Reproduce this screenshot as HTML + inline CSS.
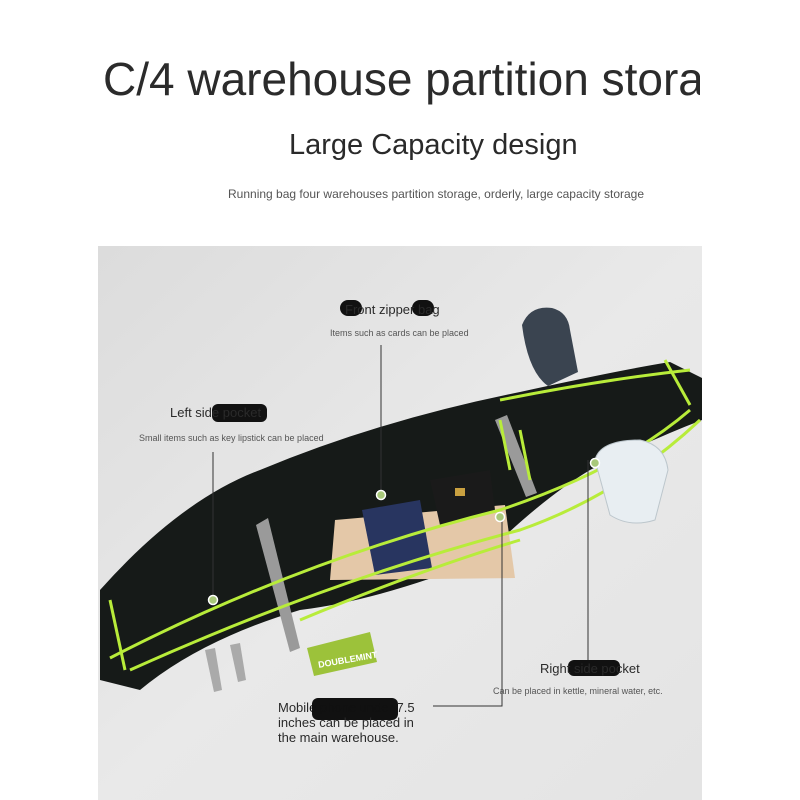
<!DOCTYPE html>
<html><head><meta charset="utf-8"><style>
html,body{margin:0;padding:0;background:#fff;width:800px;height:800px;overflow:hidden;font-family:"Liberation Sans",sans-serif}
.t{position:absolute;white-space:nowrap;color:#2a2a2a}
</style></head><body>
<div class="t" style="left:103px;top:52px;font-size:46px;width:597px;overflow:hidden;color:#2b2b2b">C/4 warehouse partition storage</div>
<div class="t" style="left:289px;top:129px;font-size:29px">Large Capacity design</div>
<div class="t" style="left:228px;top:187px;font-size:12px;color:#555">Running bag four warehouses partition storage, orderly, large capacity storage</div>
<svg style="position:absolute;left:0;top:0" width="800" height="800">
<defs><linearGradient id="bg" x1="0" y1="0" x2="1" y2="1"><stop offset="0" stop-color="#dcdcdc"/><stop offset="0.5" stop-color="#e9e9e9"/><stop offset="1" stop-color="#e4e4e4"/></linearGradient></defs>
<rect x="98" y="246" width="604" height="554" fill="url(#bg)"/>
<!-- mesh bottle -->
<path d="M522 325 Q530 305 552 308 Q568 312 570 330 L578 372 L548 386 Q528 372 522 325Z" fill="#3a4450"/>
<!-- bag -->
<path d="M100 590 Q180 500 260 470 Q380 420 520 392 Q620 370 670 362 L702 378 L702 420 Q650 440 590 470 Q540 500 480 560 Q380 600 300 610 Q200 640 140 690 L100 680Z" fill="#161a18"/>
<!-- phone/cards -->
<path d="M335 520 L505 505 L515 578 L330 580Z" fill="#e4c8a8"/>
<path d="M362 510 L420 500 L432 568 L375 575Z" fill="#283560"/>
<path d="M430 480 L490 470 L495 510 L440 525Z" fill="#1a1a1a"/>
<rect x="455" y="488" width="10" height="8" fill="#c9a040"/>
<!-- gray reflective strips -->
<path d="M256 525 L268 518 L300 648 L290 652Z" fill="#9a9a9a"/>
<path d="M495 420 L507 415 L537 493 L526 497Z" fill="#9a9a9a"/>
<!-- green zippers -->
<g fill="none" stroke="#b8ec3a" stroke-width="3">
<path d="M110 658 Q300 560 500 510 Q620 470 690 410"/>
<path d="M130 670 Q330 580 520 530 Q620 495 700 420"/>
<path d="M300 620 Q420 570 520 540"/>
<path d="M500 400 Q600 380 690 370"/>
<path d="M110 600 L125 670"/>
<path d="M665 360 L690 405"/>
<path d="M500 420 L510 470"/>
<path d="M520 430 L530 480"/>
</g>
<!-- clear bottle -->
<path d="M595 460 Q600 440 640 440 Q665 445 668 470 L655 520 Q630 528 610 515Z" fill="#e8eef2" stroke="#bcc6cc"/>
<!-- keys -->
<path d="M205 650 L215 648 L222 690 L214 692Z" fill="#aaa"/>
<path d="M230 645 L240 643 L246 680 L238 682Z" fill="#aaa"/>
<!-- gum -->
<path d="M307 648 L370 632 L377 662 L314 676Z" fill="#9cc23a"/>
<text x="317" y="664" font-size="9" fill="#fff" font-weight="bold" transform="rotate(-10 340 656)">DOUBLEMINT</text>
<!-- leader lines -->
<g stroke="#333" stroke-width="1" fill="none">
<line x1="381" y1="345" x2="381" y2="494"/>
<line x1="213" y1="452" x2="213" y2="598"/>
<polyline points="433,706 502,706 502,520"/>
<line x1="588" y1="460" x2="588" y2="660"/>
</g>
<g fill="#a8c87a" stroke="#fff" stroke-width="1.5">
<circle cx="381" cy="495" r="4.5"/><circle cx="213" cy="600" r="4.5"/><circle cx="500" cy="517" r="4.5"/><circle cx="595" cy="463" r="4.5"/>
</g>
<!-- blotches -->
<rect x="340" y="300" width="22" height="16" rx="8" fill="#111"/>
<rect x="412" y="300" width="22" height="16" rx="8" fill="#111"/>
<rect x="212" y="404" width="55" height="18" rx="6" fill="#111"/>
<rect x="568" y="660" width="52" height="16" rx="6" fill="#111"/>
<rect x="312" y="698" width="86" height="22" rx="6" fill="#111"/>
</svg>
<div class="t" style="left:345px;top:302px;font-size:13px">Front zipper bag</div>
<div class="t" style="left:330px;top:328px;font-size:9px;color:#555">Items such as cards can be placed</div>
<div class="t" style="left:170px;top:405px;font-size:13px">Left side pocket</div>
<div class="t" style="left:139px;top:433px;font-size:9px;color:#555">Small items such as key lipstick can be placed</div>
<div class="t" style="left:540px;top:661px;font-size:13px">Right side pocket</div>
<div class="t" style="left:493px;top:686px;font-size:9px;color:#555">Can be placed in kettle, mineral water, etc.</div>
<div class="t" style="left:278px;top:700px;font-size:13px;line-height:15px">Mobil<span style="color:#111">e phone under</span> 7.5<br>inches can be placed in<br>the main warehouse.</div>
</body></html>
